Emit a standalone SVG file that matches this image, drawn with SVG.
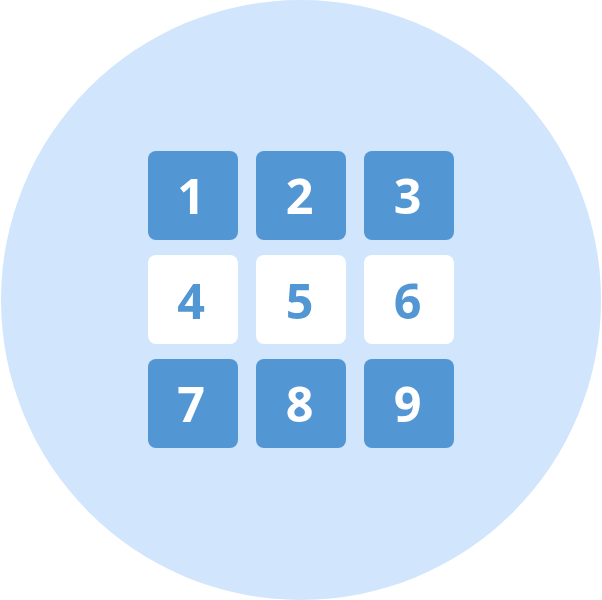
<svg xmlns="http://www.w3.org/2000/svg" width="602" height="600" viewBox="0 0 602 600">
<style>
.t{fill:#5296d4;}
.w{fill:#ffffff;}
.n{font-family:"Open Sans","Noto Sans",sans-serif;font-weight:bold;font-size:48.5px;text-anchor:middle;}
.nw{fill:#ffffff;}
.nb{fill:#5296d4;}
</style>
<circle cx="301" cy="300" r="300" fill="#d1e5fd"/>
<g id="tile1"><rect class="t" x="148" y="151" width="90" height="89" rx="8"/><text class="n nw" x="191" y="214">1</text></g>
<g id="tile2"><rect class="t" x="256" y="151" width="90" height="89" rx="8"/><text class="n nw" x="299.5" y="214">2</text></g>
<g id="tile3"><rect class="t" x="364" y="151" width="90" height="89" rx="8"/><text class="n nw" x="407.5" y="214">3</text></g>
<g id="tile4"><rect class="w" x="148" y="255" width="90" height="89" rx="8"/><text class="n nb" x="191" y="318.5">4</text></g>
<g id="tile5"><rect class="w" x="256" y="255" width="90" height="89" rx="8"/><text class="n nb" x="299.5" y="318.5">5</text></g>
<g id="tile6"><rect class="w" x="364" y="255" width="90" height="89" rx="8"/><text class="n nb" x="407.5" y="318.5">6</text></g>
<g id="tile7"><rect class="t" x="148" y="359" width="90" height="89" rx="8"/><text class="n nw" x="191" y="422">7</text></g>
<g id="tile8"><rect class="t" x="256" y="359" width="90" height="89" rx="8"/><text class="n nw" x="299.5" y="422">8</text></g>
<g id="tile9"><rect class="t" x="364" y="359" width="90" height="89" rx="8"/><text class="n nw" x="407.5" y="422">9</text></g>
<g id="connectors"/>
</svg>
